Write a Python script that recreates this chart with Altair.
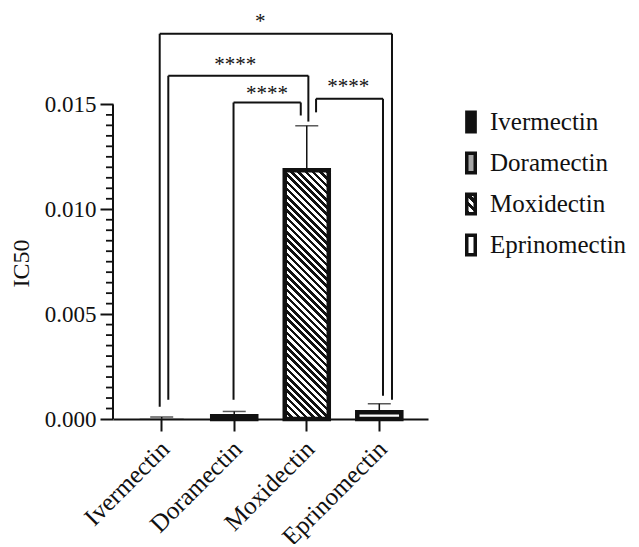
import altair as alt
import pandas as pd

# ---------------- data ----------------
drugs = ["Ivermectin", "Doramectin", "Moxidectin", "Eprinomectin"]
ic50_mean = [0.00001, 0.000135, 0.01186, 0.00032]
ic50_upper = [0.000095, 0.00036, 0.01398, 0.00073]
bar_fill = ["#111111", "#a6a6a6", "stripes", "#ffffff"]
bar_stroke = ["transparent", "#111111", "#111111", "#111111"]

major_ticks = [0.0, 0.005, 0.010, 0.015]
minor_ticks = [round(i * 0.0005, 4) for i in range(31) if i % 10]

# significance brackets
br_left = ["Ivermectin", "Ivermectin", "Doramectin", "Moxidectin"]
br_right = ["Eprinomectin", "Moxidectin", "Moxidectin", "Eprinomectin"]
br_top = [0.01837, 0.01637, 0.01509, 0.01527]
br_left_end = [0.00059, 0.00092, 0.00092, 0.01462]
br_right_end = [0.00092, 0.01418, 0.01447, 0.00111]
br_label = ["*", "****", "****", "****"]
br_text_cat = ["Doramectin", "Doramectin", "Doramectin", "Moxidectin"]
br_text_y = [0.01866, 0.01660, 0.01523, 0.01555]
# pixel nudges (style)
br_left_dx = [-2, 6.6, -0.7, 9.3]
br_right_dx = [12.7, 1.6, -6, 3.7]
br_text_dx = [26, 1, 32.7, 41.6]

FONT = "Liberation Serif"
INK = "#111111"
W, H = 315, 409


def stripes(w, h, period, dark=INK, light="#ffffff"):
    k = (w + h) / (w * w + h * h)
    n = (w + h) / period
    stops = []
    i = 0
    while i / n < 1:
        a, b, c = i / n, min((i + 0.5) / n, 1), min((i + 1) / n, 1)
        stops += [alt.GradientStop(offset=a, color=dark),
                  alt.GradientStop(offset=b, color=dark),
                  alt.GradientStop(offset=b, color=light),
                  alt.GradientStop(offset=c, color=light)]
        i += 1
    return alt.LinearGradient(gradient="linear", stops=stops,
                              x1=0, y1=1, x2=k * w, y2=1 - k * h)


bars = pd.DataFrame({"drug": drugs, "mean": ic50_mean, "upper": ic50_upper,
                     "fill": bar_fill, "stroke": bar_stroke})

x_scale = alt.Scale(domain=drugs, paddingInner=0.393, paddingOuter=0.368)
y_scale = alt.Scale(domain=[0, 0.0195], nice=False, zero=True)
x_axis = alt.Axis(title=None, labelAngle=-45, labelAlign="right",
                  labelBaseline="top", tickSize=12, tickWidth=2,
                  domainWidth=2, domainColor=INK, tickColor=INK,
                  labelFont=FONT, labelFontSize=25, labelColor=INK,
                  labelPadding=5, labelOffset=-5, grid=False)
y_axis = alt.Axis(title=None, values=major_ticks, format=".3f", domain=False,
                  tickSize=13, tickWidth=2, tickColor=INK, labelFont=FONT,
                  labelFontSize=23, labelColor=INK, labelPadding=4, grid=False)


def X(field):
    return alt.X(field, type="nominal", scale=x_scale, axis=x_axis, sort=drugs)


def Y(field):
    return alt.Y(field, type="quantitative", scale=y_scale, axis=y_axis)


base = alt.Chart(bars)

plain_bars = base.transform_filter(alt.datum.fill != "stripes").mark_bar(
    strokeWidth=4.5).encode(
    x=X("drug"), y=Y("mean"),
    fill=alt.Fill("fill:N", scale=None), stroke=alt.Stroke("stroke:N", scale=None))

moxi_h = 0.01186 * H / 0.0195
striped_bar = base.transform_filter(alt.datum.fill == "stripes").mark_bar(
    strokeWidth=4.5, stroke=INK, fill=stripes(44, moxi_h, 7.2)).encode(
    x=X("drug"), y=Y("mean"))

err_line = base.mark_rule(strokeWidth=1.5, color=INK).encode(
    x=X("drug"), y=Y("mean"), y2="upper")
err_cap = base.mark_tick(size=23, thickness=1.5, color=INK).encode(
    x=X("drug"), y=Y("upper"))

layers = [plain_bars, striped_bar, err_line, err_cap]

# brackets
for i in range(len(br_label)):
    d = pd.DataFrame({"a": [br_left[i]], "b": [br_right[i]], "top": [br_top[i]],
                      "le": [br_left_end[i]], "re": [br_right_end[i]],
                      "t": [br_label[i]], "tc": [br_text_cat[i]], "ty": [br_text_y[i]]})
    c = alt.Chart(d)
    layers.append(c.mark_rule(strokeWidth=2, color=INK, xOffset=br_left_dx[i],
                              x2Offset=br_right_dx[i]).encode(
        x=X("a"), x2="b", y=Y("top")))
    layers.append(c.mark_rule(strokeWidth=2, color=INK, xOffset=br_left_dx[i]).encode(
        x=X("a"), y=Y("top"), y2="le"))
    layers.append(c.mark_rule(strokeWidth=2, color=INK, xOffset=br_right_dx[i]).encode(
        x=X("b"), y=Y("top"), y2="re"))
    layers.append(c.mark_text(font=FONT, fontSize=21, color=INK, dx=br_text_dx[i],
                              align="center", baseline="alphabetic").encode(
        x=X("tc"), y=Y("ty"), text="t:N"))

# y axis line and minor ticks
axis_df = pd.DataFrame({"y0": [0.0], "y1": [0.015]})
layers.append(alt.Chart(axis_df).mark_rule(strokeWidth=2, color=INK).encode(
    x=alt.value(0), y=Y("y0"), y2="y1"))
minor_df = pd.DataFrame({"v": minor_ticks})
layers.append(alt.Chart(minor_df).mark_rule(strokeWidth=1.8, color=INK).encode(
    x=alt.value(-7), x2=alt.value(0), y=Y("v")))

title_df = pd.DataFrame({"t": ["IC50"]})
layers.append(alt.Chart(title_df).mark_text(
    font=FONT, fontSize=24, color=INK, angle=270, align="center",
    baseline="alphabetic").encode(x=alt.value(-84), y=alt.value(253.5), text="t:N"))

main = alt.layer(*layers)

# legend
leg = pd.DataFrame({"name": drugs, "fill": bar_fill,
                    "stroke": ["#111111"] * 4})
leg_y = alt.Y("name:N", scale=alt.Scale(type="point", domain=drugs,
                                         range=[112, 235], padding=0), axis=None)
SHAPE = "M-0.436,-1H0.436V1H-0.436Z"
lbase = alt.Chart(leg)
leg_plain = lbase.transform_filter(
    (alt.datum.fill != "stripes") & (alt.datum.name != "Ivermectin")).mark_point(
    shape=SHAPE, size=380, filled=True, opacity=1, strokeWidth=3.5).encode(
    x=alt.value(358), y=leg_y,
    fill=alt.Fill("fill:N", scale=None), stroke=alt.Stroke("stroke:N", scale=None))
leg_iv = lbase.transform_filter(alt.datum.name == "Ivermectin").mark_point(
    shape="M-0.6,-1.18H0.6V1.18H-0.6Z", size=380, filled=True, opacity=1,
    fill=INK, strokeWidth=0).encode(x=alt.value(358), y=leg_y)
leg_str = lbase.transform_filter(alt.datum.fill == "stripes").mark_point(
    shape=SHAPE, size=380, filled=True, opacity=1, strokeWidth=3.5, stroke=INK,
    fill=stripes(8.5, 19.5, 9)).encode(x=alt.value(358), y=leg_y)
leg_text = lbase.mark_text(font=FONT, fontSize=25, color=INK, align="left",
                           baseline="middle").encode(
    x=alt.value(377), y=leg_y, text="name:N")

legend = alt.layer(leg_plain, leg_iv, leg_str, leg_text)

chart = alt.layer(main, legend).resolve_scale(y="independent").properties(
    width=W, height=H,
    padding={"left": 105, "top": 2, "right": 203, "bottom": 125},
    autosize=alt.AutoSizeParams(type="none"),
    background="white",
).configure_view(stroke=None)

chart.save("out.html", embed_options={"renderer": "svg", "actions": False})
